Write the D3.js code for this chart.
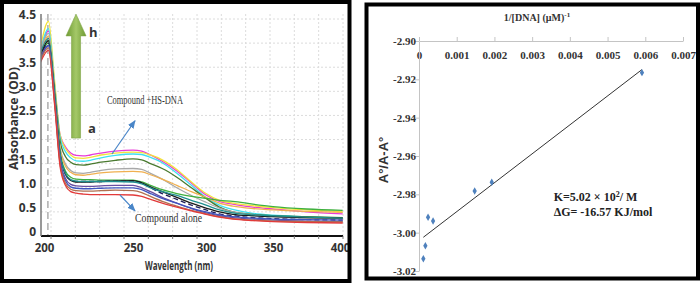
<!DOCTYPE html>
<html><head><meta charset="utf-8">
<script src="https://cdn.jsdelivr.net/npm/d3@7"></script>
<style>body{margin:0;background:#fff}svg{display:block}</style>
</head><body>
<svg id="c" width="700" height="284"></svg>
<script>
// ---------- LEFT PANEL DATA ----------
const wavelengths = [198, 202.5, 206, 209, 212, 215, 218, 222, 226, 232, 240, 250, 256, 262, 270, 280, 290, 300, 310, 320, 335, 350, 375, 402];
const seriesNames = ["magenta","yellow","cyan","olive","grey","orange","lime","navy","black","teal","purple","blue","brown","red"];
const seriesColors = ["#e83ad8","#f2e23a","#3fe0f0","#4a7a30","#a8a8a8","#f0b050","#3fb03f","#20205a","#1a1a1a","#1f8f8f","#6a4ea0","#4055c0","#b07050","#e23a3a"];
const seriesDashed = [false,false,false,false,false,false,false,true,false,false,false,false,false,false];
const sMagenta = [3.85,4.25,3.10,2.10,1.85,1.72,1.67,1.66,1.68,1.72,1.76,1.78,1.76,1.68,1.55,1.35,1.10,0.85,0.72,0.66,0.60,0.56,0.50,0.46];
const sYellow  = [3.90,4.45,3.20,2.10,1.82,1.68,1.62,1.61,1.63,1.68,1.72,1.74,1.73,1.68,1.58,1.38,1.12,0.88,0.74,0.68,0.63,0.59,0.54,0.50];
const sCyan    = [3.80,4.30,3.10,2.05,1.75,1.62,1.56,1.55,1.57,1.62,1.67,1.70,1.69,1.63,1.52,1.30,1.05,0.80,0.64,0.55,0.47,0.43,0.40,0.37];
const sOlive   = [3.75,4.05,3.00,1.98,1.65,1.53,1.48,1.47,1.49,1.53,1.57,1.60,1.58,1.50,1.40,1.22,1.00,0.78,0.60,0.50,0.45,0.42,0.40,0.38];
const sGrey    = [3.80,4.20,3.00,1.85,1.50,1.36,1.31,1.30,1.32,1.36,1.39,1.40,1.38,1.30,1.18,1.00,0.84,0.70,0.58,0.50,0.44,0.40,0.37,0.35];
const sOrange  = [3.70,4.15,3.00,1.82,1.45,1.32,1.27,1.26,1.28,1.31,1.33,1.34,1.33,1.27,1.18,1.05,0.92,0.80,0.68,0.62,0.57,0.54,0.51,0.49];
const sLime    = [3.75,4.00,2.95,1.75,1.35,1.22,1.18,1.17,1.17,1.16,1.16,1.16,1.12,1.05,0.96,0.88,0.82,0.78,0.74,0.72,0.66,0.61,0.56,0.53];
const sNavy    = [3.70,4.00,2.90,1.70,1.30,1.16,1.13,1.13,1.13,1.13,1.14,1.14,1.10,1.00,0.88,0.76,0.64,0.54,0.46,0.42,0.38,0.36,0.34,0.33];
const sBlack   = [3.75,4.05,2.90,1.70,1.28,1.15,1.12,1.12,1.12,1.13,1.14,1.15,1.10,1.02,0.92,0.80,0.68,0.58,0.50,0.45,0.42,0.40,0.38,0.37];
const sTeal    = [3.80,4.10,2.95,1.72,1.30,1.17,1.14,1.13,1.13,1.13,1.13,1.12,1.08,1.00,0.92,0.84,0.74,0.64,0.54,0.48,0.44,0.42,0.39,0.37];
const sPurple  = [3.70,3.95,2.80,1.60,1.20,1.07,1.04,1.03,1.03,1.04,1.05,1.05,1.00,0.92,0.80,0.68,0.57,0.48,0.42,0.38,0.35,0.33,0.31,0.30];
const sBlue    = [3.65,3.95,2.80,1.55,1.15,1.02,0.99,0.98,0.98,0.99,1.00,1.00,0.96,0.88,0.78,0.68,0.58,0.50,0.44,0.40,0.37,0.35,0.34,0.33];
const sBrown   = [3.65,3.90,2.75,1.50,1.10,0.97,0.94,0.93,0.93,0.94,0.95,0.94,0.90,0.82,0.72,0.62,0.53,0.46,0.40,0.36,0.33,0.31,0.30,0.29];
const sRed     = [3.60,3.85,2.70,1.45,1.05,0.92,0.89,0.87,0.86,0.86,0.86,0.85,0.82,0.76,0.68,0.60,0.52,0.45,0.39,0.35,0.32,0.30,0.28,0.27];
const seriesValues = [sMagenta,sYellow,sCyan,sOlive,sGrey,sOrange,sLime,sNavy,sBlack,sTeal,sPurple,sBlue,sBrown,sRed];
const xTicksLeft = [200,250,300,350,400];
const yTicksLeft = [0,0.5,1.0,1.5,2.0,2.5,3.0,3.5,4.0,4.5];

// ---------- RIGHT PANEL DATA ----------
const invDNA = [0.005912, 0.001929, 0.001476, 0.000240, 0.000373, 0.000169, 0.000115];
const ratioA = [-2.9165, -2.9737, -2.9783, -2.9920, -2.9939, -3.0068, -3.0136];
const xTicksRight = [0,0.001,0.002,0.003,0.004,0.005,0.006,0.007];
const yTicksRight = [-2.90,-2.92,-2.94,-2.96,-2.98,-3.00,-3.02];

const svg = d3.select("#c");
const defs = svg.append("defs");

// ================= LEFT PANEL =================
const L = svg.append("g");
const xL = d3.scaleLinear().domain([200,250,300,350,400]).range([44,133,206,273,340]);
const yL = d3.scaleLinear().domain([0,4.5]).range([236,19]);
const plotL = {x0:41, x1:343, y0:14, y1:236};
const narrow = "'Liberation Sans Narrow','Open Sans',sans-serif";

// grid
const gridIdx = d3.scaleLinear().domain([0,12]).range([51,343]);
L.append("g").selectAll("line").data(d3.range(0,13)).join("line")
  .attr("x1",d=>gridIdx(d)).attr("x2",d=>gridIdx(d)).attr("y1",plotL.y0).attr("y2",plotL.y1)
  .attr("stroke","#dcdcdc").attr("stroke-width",1).attr("stroke-dasharray","2,2");
L.append("g").selectAll("line").data(yTicksLeft.slice(1)).join("line")
  .attr("x1",plotL.x0).attr("x2",plotL.x1).attr("y1",d=>yL(d)).attr("y2",d=>yL(d))
  .attr("stroke","#dcdcdc").attr("stroke-width",1).attr("stroke-dasharray","2,2");

// dashed vertical marker
L.append("line").attr("x1",xL(202.2)).attr("x2",xL(202.2)).attr("y1",plotL.y0).attr("y2",plotL.y1)
  .attr("stroke","#9a9a9a").attr("stroke-width",1.2).attr("stroke-dasharray","7,4");

// clip
defs.append("clipPath").attr("id","clipL").append("rect")
  .attr("x",plotL.x0).attr("y",5).attr("width",plotL.x1-plotL.x0).attr("height",plotL.y1-5);

const line = d3.line().x((d,i)=>xL(wavelengths[i])).y(d=>yL(d)).curve(d3.curveMonotoneX);
const curves = L.append("g").attr("clip-path","url(#clipL)");
seriesValues.forEach((vals,k)=>{
  curves.append("path").attr("d",line(vals)).attr("fill","none")
    .attr("stroke",seriesColors[k]).attr("stroke-width",1.3)
    .attr("stroke-dasharray",seriesDashed[k]?"5,3":null);
});

// axes
const xAxisL = L.append("g").attr("transform",`translate(0,${plotL.y1})`)
  .call(d3.axisBottom(xL).tickValues(xTicksLeft).tickSize(0).tickFormat(d=>d));
xAxisL.select(".domain").remove();
L.append("line").attr("x1",plotL.x0).attr("x2",plotL.x1).attr("y1",plotL.y1).attr("y2",plotL.y1)
  .attr("stroke","#111").attr("stroke-width",2);
L.append("g").selectAll("line").data(d3.range(0,13)).join("line")
  .attr("x1",d=>gridIdx(d)).attr("x2",d=>gridIdx(d)).attr("y1",plotL.y1).attr("y2",plotL.y1+3)
  .attr("stroke","#777").attr("stroke-width",1);
xAxisL.selectAll("text").attr("y",8)
  .attr("font-family",narrow).attr("font-weight","bold")
  .attr("font-size",11.5).attr("fill","#333");

const yAxisL = L.append("g").attr("transform",`translate(${plotL.x0},0)`)
  .call(d3.axisLeft(yL).tickValues(yTicksLeft).tickSize(0).tickFormat(d=>d===0?"0":d.toFixed(1)));
yAxisL.select(".domain").attr("stroke","#777").attr("stroke-width",1.5)
  .attr("d",`M0,${plotL.y0}V${plotL.y1}`);
yAxisL.selectAll("text").attr("x",-5).attr("dy","-0.05em")
  .attr("font-family",narrow).attr("font-weight","bold")
  .attr("font-size",12).attr("fill","#333");

// axis titles
L.append("text").attr("x",179).attr("y",270).attr("text-anchor","middle")
  .attr("font-family","'Open Sans',sans-serif").attr("font-weight","bold").attr("font-size",11.5)
  .attr("fill","#333").attr("textLength",68).attr("lengthAdjust","spacingAndGlyphs").text("Wavelength (nm)");
L.append("text").attr("transform","translate(17.5,118.5) rotate(-90)").attr("text-anchor","middle")
  .attr("font-family","'Open Sans',sans-serif").attr("font-weight","bold").attr("font-size",12.5)
  .attr("fill","#333").attr("textLength",103).attr("lengthAdjust","spacingAndGlyphs").text("Absorbance (OD)");

// green arrow
const grad = defs.append("linearGradient").attr("id","gArrow").attr("x1","0").attr("x2","1").attr("y1","0").attr("y2","0");
grad.append("stop").attr("offset","0%").attr("stop-color","#6e9a32");
grad.append("stop").attr("offset","50%").attr("stop-color","#a4c868");
grad.append("stop").attr("offset","100%").attr("stop-color","#6e9a32");
const ax = xL(218), aTop = yL(4.6), aBase = yL(4.15), aBot = yL(2.03);
L.append("path").attr("d",`M${ax},${aTop} L${ax+10},${aBase} L${ax+4.5},${aBase} L${ax+4.5},${aBot} L${ax-4.5},${aBot} L${ax-4.5},${aBase} L${ax-10},${aBase} Z`)
  .attr("fill","url(#gArrow)").attr("stroke","#7ea444").attr("stroke-width",0.6);
L.append("text").attr("x",xL(225.3)).attr("y",yL(4.13)).attr("font-family",narrow)
  .attr("font-weight","bold").attr("font-size",13).attr("fill","#333").text("h");
L.append("text").attr("x",xL(224.7)).attr("y",yL(2.14)).attr("font-family",narrow)
  .attr("font-weight","bold").attr("font-size",13).attr("fill","#333").text("a");

// annotation arrows
defs.append("marker").attr("id","bh").attr("viewBox","0 0 10 10").attr("refX",9).attr("refY",5)
  .attr("markerWidth",7).attr("markerHeight",7).attr("orient","auto")
  .append("path").attr("d","M0,1 L10,5 L0,9 Z").attr("fill","#4a86c8");
L.append("line").attr("x1",xL(238.2)).attr("y1",yL(1.70)).attr("x2",xL(251.4)).attr("y2",yL(2.39))
  .attr("stroke","#4a86c8").attr("stroke-width",1.2).attr("marker-end","url(#bh)");
L.append("line").attr("x1",xL(242.7)).attr("y1",yL(0.85)).attr("x2",xL(251.4)).attr("y2",yL(0.52))
  .attr("stroke","#4a86c8").attr("stroke-width",1.2).attr("marker-end","url(#bh)");
L.append("text").attr("x",xL(235.4)).attr("y",yL(2.74)).attr("font-family","'Liberation Serif',serif")
  .attr("font-size",11.5).attr("fill","#333").attr("textLength",76).attr("lengthAdjust","spacingAndGlyphs").text("Compound +HS-DNA");
L.append("text").attr("x",xL(251.4)).attr("y",yL(0.29)).attr("font-family","'Liberation Serif',serif")
  .attr("font-size",12).attr("fill","#333").attr("textLength",67).attr("lengthAdjust","spacingAndGlyphs").text("Compound alone");

// left frame
svg.append("rect").attr("x",2).attr("y",2).attr("width",347.5).attr("height",279)
  .attr("fill","none").attr("stroke","#000").attr("stroke-width",4);

// ================= RIGHT PANEL =================
const R = svg.append("g");
const xR = d3.scaleLinear().domain([0,0.007]).range([419,683]);
const yR = d3.scaleLinear().domain([-3.02,-2.90]).range([271,41]);
const serif = "'Liberation Serif','Times New Roman',serif";

const xAxisR = R.append("g").attr("transform",`translate(0,${yR(-2.90)})`)
  .call(d3.axisTop(xR).tickValues(xTicksRight).tickSize(4).tickSizeOuter(0).tickFormat(d=>d===0?"0":d.toFixed(3)));
xAxisR.select(".domain").attr("stroke","#c4c4c4");
xAxisR.selectAll(".tick line").attr("stroke","#c4c4c4");
xAxisR.selectAll("text").attr("y",18).attr("dy","0").attr("font-family",serif).attr("font-weight","bold")
  .attr("font-size",11).attr("fill","#333");

const yAxisR = R.append("g").attr("transform",`translate(${xR(0)},0)`)
  .call(d3.axisLeft(yR).tickValues(yTicksRight).tickSize(4).tickSizeOuter(0).tickFormat(d=>d.toFixed(2)));
yAxisR.select(".domain").attr("stroke","#c4c4c4");
yAxisR.selectAll(".tick line").attr("stroke","#c4c4c4");
yAxisR.selectAll("text").attr("x",-3).attr("font-family",serif).attr("font-weight","bold")
  .attr("font-size",11).attr("fill","#333");

// title
const tt = R.append("text").attr("x",537).attr("y",21).attr("text-anchor","middle")
  .attr("font-family",serif).attr("font-weight","bold").attr("font-size",10).attr("fill","#333");
tt.append("tspan").text("1/[DNA] (µM)");
tt.append("tspan").attr("dy",-4).attr("font-size",7).text("-1");

// y title
R.append("text").attr("transform","translate(388,160) rotate(-90)").attr("text-anchor","middle")
  .attr("font-family","'Liberation Sans',Arial,sans-serif").attr("font-weight","bold").attr("font-size",13)
  .attr("fill","#333").text("A°/A-A°");

// regression line from the data
const mx = d3.mean(invDNA), my = d3.mean(ratioA);
let sxy=0, sxx=0;
invDNA.forEach((x,i)=>{sxy+=(x-mx)*(ratioA[i]-my); sxx+=(x-mx)*(x-mx);});
const slope = sxy/sxx, icpt = my - slope*mx;
const xmin = d3.min(invDNA), xmax = d3.max(invDNA);
R.append("line").attr("x1",xR(xmin)).attr("y1",yR(icpt+slope*xmin)).attr("x2",xR(xmax)).attr("y2",yR(icpt+slope*xmax))
  .attr("stroke","#333").attr("stroke-width",1);

// points
R.append("g").selectAll("path").data(invDNA).join("path")
  .attr("transform",(d,i)=>`translate(${xR(d)},${yR(ratioA[i])})`)
  .attr("d",d3.symbol(d3.symbolDiamond,16)).attr("fill","#4f81bd");

// annotation
const ann = R.append("g").attr("font-family",serif).attr("font-weight","bold").attr("font-size",12).attr("fill","#222");
const k1 = ann.append("text").attr("x",xR(0.00357)).attr("y",yR(-2.9835));
k1.append("tspan").text("K=5.02 × 10");
k1.append("tspan").attr("dy",-4).attr("font-size",8).text("2");
k1.append("tspan").attr("dy",4).text("/ M");
ann.append("text").attr("x",xR(0.00357)).attr("y",yR(-2.9913)).text("ΔG= -16.57 KJ/mol");

// right frame
svg.append("rect").attr("x",366.5).attr("y",4.5).attr("width",331.5).attr("height",274)
  .attr("fill","none").attr("stroke","#000").attr("stroke-width",4);
</script>
</body></html>
